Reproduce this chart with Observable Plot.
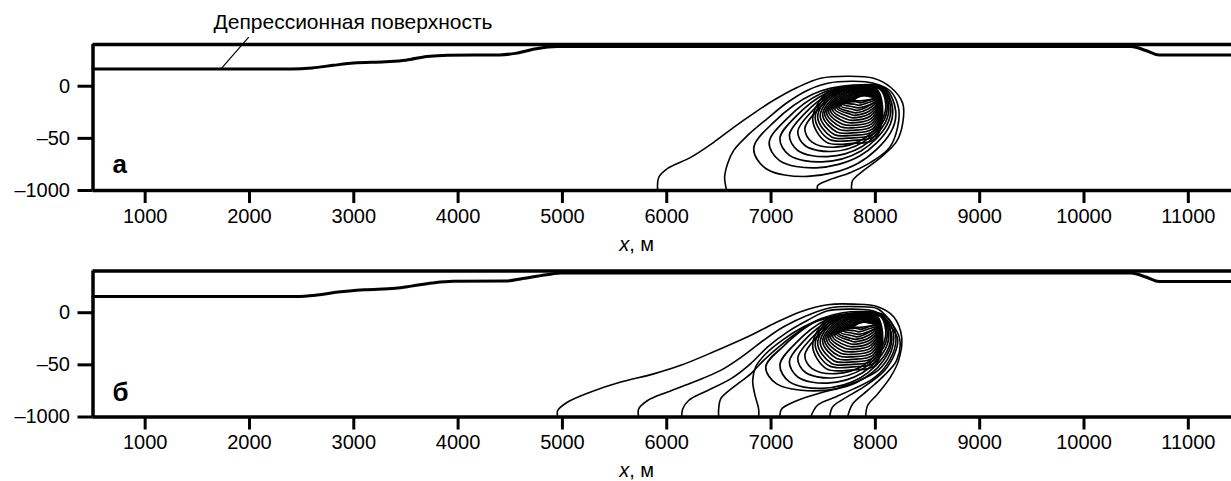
<!DOCTYPE html>
<html><head><meta charset="utf-8">
<script src="https://cdn.jsdelivr.net/npm/d3@7"></script>
<script src="https://cdn.jsdelivr.net/npm/@observablehq/plot@0.6"></script>
<style>
html,body{margin:0;padding:0;background:#fff;}
#chart{position:relative;width:1231px;height:481px;font-family:"Liberation Sans",Arial,sans-serif;}
#chart svg{position:absolute;left:0;}
#chart g[aria-label$="tick label"]{font-size:20px !important;}
</style></head><body><div id="chart"></div>
<script>
// ---- axes ----
const xTicks = [1000, 2000, 3000, 4000, 5000, 6000, 7000, 8000, 9000, 10000, 11000];
const yTicks = [0, -50, -1000];
const xDomain = [500, 11414];
const yTop = 40, yBreak = -50, yBottom = -1000;
const xLabel = "x, м";
const surfaceLabel = "Депрессионная поверхность";
const panelLetters = ["а", "б"];

// ---- depression surface [x, м ; y] ----
const surfaceA = [[500,16.5],[2400,16.5],[2600,17.5],[2800,20],[3000,22.3],[3300,23.5],[3500,25],[3700,28.5],[3900,29.8],[4400,30],[4550,31.5],[4750,36],[4950,38],[10450,38],[10600,34],[10720,30],[11414,30]];
const surfaceB = [[500,15.5],[2450,15.5],[2650,17],[2850,19.8],[3100,22],[3400,23.5],[3550,25.5],[3750,28.5],[3950,30.2],[4450,30.3],[4620,32.8],[4850,36.5],[5000,38],[10450,38],[10600,34],[10720,30],[11414,30]];
const leader = [{x1: 1725, y1: 16.3, x2: 1993, y2: 47.1}];

// ---- panel а: open isolines reaching the bottom ----
const openA1 = [[5913,-1000],[5923,-763],[6009,-598],[6230,-397],[6450,-123],[6642,-39.4],[6833,-26],[7025,-13.5],[7255,-1],[7476,7.7],[7734,9.6],[7983,7.7],[8146,-1],[8262,-16.3],[8262,-35.6],[8204,-105],[8051,-397],[7888,-635],[7782,-817],[7772,-1000]];
const openA2 = [[6575,-1000],[6555,-763],[6584,-507],[6642,-269],[6776,-47.1],[6967,-30.8],[7159,-15.4],[7351,-3.8],[7543,2.9],[7792,4.8],[7983,2.9],[8146,-4.8],[8223,-21.2],[8213,-39.4],[8137,-214],[7955,-488],[7763,-671],[7543,-817],[7447,-909],[7447,-1000]];

// ---- closed isolines: outer ones ----
const loop1 = [[6834,-233],[6949,-598],[7351,-744],[7830,-507],[8147,-44.2],[8194,-23.1],[8089,-1.9],[7782,1.0],[7399,-7.7],[7025,-34.6]];
const loop2 = [[6982,-127],[7082,-456],[7432,-587],[7849,-373],[8125,-40.2],[8165,-21.2],[8074,-2.1],[7807,0.5],[7474,-7.3],[7148,-31.5]];
const loop3 = [[7085,-52],[7174,-355],[7488,-478],[7862,-280],[8109,-37.4],[8146,-19.8],[8064,-2.2],[7824,0.2],[7525,-7.0],[7234,-29.4]];
const loop4 = [[7176,-46.8],[7256,-271],[7538,-383],[7873,-200],[8095,-34.9],[8128,-18.7],[8055,-2.4],[7840,-0.1],[7571,-6.8],[7310,-27.5]];
const loop5 = [[7256,-43.5],[7328,-185],[7582,-289],[7883,-119],[8083,-32.5],[8113,-17.5],[8046,-2.5],[7853,-0.4],[7612,-6.5],[7376,-25.7]];
const loop6 = [[7324,-40.7],[7390,-114],[7619,-211],[7892,-54],[8073,-30.5],[8099,-16.5],[8040,-2.6],[7865,-0.7],[7646,-6.3],[7433,-24.1]];
// ---- closed isolines: dense core ----
const core1 = [[7399,-31.7],[7533,-123],[7782,-141],[7993,-68],[8070,-26],[8012,-2.9],[7840,-1.0],[7543,-5.8]];
const core2 = [[7423,-30.5],[7557,-68],[7782,-87],[7988,-48.1],[8065,-24.8],[8007,-3.4],[7840,-1.4],[7567,-6.3]];
const core3 = [[7447,-29.6],[7581,-48.6],[7782,-49.5],[7983,-45.7],[8060,-23.8],[8002,-3.8],[7840,-1.9],[7590,-6.7]];
const core4 = [[7471,-28.6],[7605,-46.2],[7782,-47.1],[7978,-43.3],[8055,-22.8],[7998,-4.3],[7840,-2.4],[7614,-7.2]];
const core5 = [[7495,-27.6],[7629,-43.8],[7782,-44.7],[7974,-40.9],[8050,-21.9],[7993,-4.8],[7840,-2.9],[7638,-7.7]];
const core6 = [[7514,-26.7],[7648,-41.3],[7782,-42.3],[7969,-38.5],[8046,-20.9],[7988,-5.3],[7840,-3.4],[7658,-8.2]];
const core7 = [[7533,-25.7],[7667,-38.9],[7782,-39.9],[7964,-36.1],[8041,-20.0],[7983,-5.8],[7840,-3.8],[7677,-8.7]];
const core8 = [[7552,-24.8],[7686,-36.5],[7782,-37.5],[7959,-33.7],[8036,-19.0],[7978,-6.3],[7840,-4.3],[7696,-9.1]];
const core9 = [[7571,-23.8],[7706,-34.1],[7782,-35.1],[7955,-31.3],[8031,-18.0],[7974,-6.7],[7840,-4.8],[7715,-9.6]];
const core10 = [[7590,-22.8],[7725,-31.7],[7782,-32.7],[7950,-28.8],[8026,-17.1],[7969,-7.2],[7840,-5.3],[7734,-10.1]];
const core11 = [[7610,-21.9],[7744,-29.3],[7782,-30.3],[7945,-26.4],[8022,-16.1],[7964,-7.7],[7840,-5.8],[7753,-10.6]];
const core12 = [[7629,-20.9],[7763,-26.9],[7802,-27.9],[7940,-24.0],[8017,-15.1],[7959,-8.2],[7840,-6.3],[7773,-11.1]];
const core13 = [[7648,-20.0],[7763,-24.5],[7811,-25.5],[7935,-21.6],[8012,-14.2],[7955,-8.7],[7840,-6.7],[7792,-11.5]];
const core14 = [[7667,-19.0],[7782,-22.1],[7821,-23.1],[7930,-19.2],[8007,-13.2],[7950,-9.1],[7840,-7.2],[7811,-12.0]];
const core15 = [[7686,-17.1],[7782,-19.7],[7840,-20.7],[7945,-17.8],[8022,-13.2],[7964,-9.1],[7878,-7.7],[7802,-10.6]];
const core16 = [[7706,-16.1],[7802,-17.3],[7840,-18.3],[7940,-15.4],[8017,-12.3],[7959,-9.6],[7878,-8.2],[7821,-11.1]];
const core17 = [[7725,-15.1],[7811,-14.9],[7859,-15.9],[7935,-13.5],[8012,-11.3],[7955,-10.1],[7888,-8.7],[7821,-11.1]];
const core18 = [[7744,-13.0],[7859,-14.0],[8007,-11.1],[7888,-9.1]];

// ---- panel б: open isolines reaching the bottom ----
const openB1 = [[4955,-1000],[4955,-881],[5051,-726],[5271,-543],[5559,-361],[5875,-214],[6134,-59],[6450,-37.5],[6776,-23.1],[7025,-10.6],[7284,1.0],[7543,7.7],[7792,8.2],[8022,5.8],[8175,-3.8],[8252,-23.1],[8223,-45.7],[8146,-269],[8022,-580],[7926,-790],[7907,-1000]];
const openB2 = [[5731,-1000],[5731,-854],[5817,-699],[6009,-543],[6258,-361],[6517,-150],[6738,-40.9],[6929,-26.4],[7121,-13.5],[7351,-2.4],[7571,4.8],[7830,5.8],[8022,3.8],[8146,-8.7],[8233,-25],[8204,-45.7],[8070,-269],[7926,-516],[7782,-763],[7734,-1000]];
const openB3 = [[6143,-1000],[6153,-854],[6210,-699],[6393,-516],[6613,-306],[6805,-48.8],[6968,-32.7],[7159,-18.3],[7351,-7.2],[7543,1.9],[7792,3.4],[8003,1.0],[8127,-10.6],[8213,-25],[8185,-39.4],[8089,-150],[7888,-452],[7696,-671],[7590,-817],[7562,-1000]];
const openB4 = [[6498,-1000],[6498,-854],[6517,-671],[6642,-452],[6805,-214],[6929,-45.7],[7092,-31.3],[7284,-16.8],[7476,-5.8],[7686,0],[7907,1.0],[8080,-1.9],[8175,-13.5],[8194,-29.8],[8108,-50],[7974,-306],[7792,-488],[7619,-635],[7447,-781],[7380,-1000]];
const openB5 = [[6881,-1000],[6881,-854],[6843,-580],[6824,-333],[6853,-87],[6949,-39.4],[7112,-26],[7313,-13.5],[7523,-4.8],[7763,-1.4],[7974,-1.4],[8108,-6.7],[8175,-21.2],[8137,-40.4],[8031,-141],[7859,-324],[7648,-470],[7409,-598],[7217,-726],[7102,-854],[7083,-1000]];
const loopB0 = [[6949,-87],[7054,-397],[7523,-516],[7897,-288],[8118,-39.4],[8156,-21.2],[8051,-2.9],[7763,-2.4],[7428,-8.7],[7112,-32.7]];

const core = [core1, core2, core3, core4, core5, core6, core7, core8, core9, core10, core11, core12, core13, core14, core15, core16, core17, core18];
const loopsA = [loop1, loop2, loop3, loop4, loop5, loop6, ...core];
const loopsB = [loopB0, loop3, loop4, loop5, loop6, ...core];

function rows(lines) {
  return lines.flatMap((pts, i) => pts.map(([x, y]) => ({id: i, x, y})));
}
// broken vertical axis: linear above -50, compressed 19x below it
const yBreakTransform = v => v >= yBreak ? v : yBreak + (v - yBreak) / 19;
const yBreakInverse = t => t >= yBreak ? t : yBreak + (t - yBreak) * 19;
const fmtY = t => { const d = Math.round(yBreakInverse(t)); return d < 0 ? "\u2013" + (-d) : String(d); };

function panel({height, top, surface, open, loops, letter, letterDy, annotate}) {
  const bottom = top + 146;
  const marks = [
    Plot.ruleY([yTop], {strokeWidth: 3.5}),
    Plot.line(surface, {x: d => d[0], y: d => d[1], strokeWidth: 3, curve: "monotone-x"}),
    Plot.line(rows(open), {x: "x", y: "y", z: "id", strokeWidth: 1.6, curve: "catmull-rom"}),
    Plot.line(rows(loops), {x: "x", y: "y", z: "id", strokeWidth: 1.7, curve: "catmull-rom-closed"}),
    Plot.ruleY([yBottom], {strokeWidth: 3.5}),
    Plot.ruleX([xDomain[0]], {strokeWidth: 3.5}),
    Plot.axisX({ticks: xTicks, tickFormat: d => String(d), tickSize: 13, tickPadding: 5, strokeWidth: 3, fontSize: 20, label: null}),
    Plot.axisY({ticks: yTicks.map(yBreakTransform), tickFormat: fmtY, tickSize: 15, tickPadding: 8, strokeWidth: 3, fontSize: 20, label: null}),
    Plot.text([{t: xLabel, x: 5712}], {x: "x", text: "t", frameAnchor: "bottom", dy: 60, lineAnchor: "bottom", fontSize: 20, className: "xlab"}),
    Plot.text([letter], {text: d => d, frameAnchor: "bottom-left", dx: 19.5, dy: letterDy, textAnchor: "start", lineAnchor: "bottom", fontSize: 26, fontWeight: "bold"})
  ];
  if (annotate) {
    marks.push(Plot.link(leader, {x1: "x1", y1: "y1", x2: "x2", y2: "y2", strokeWidth: 1.2}));
    marks.push(Plot.text([surfaceLabel], {text: d => d, frameAnchor: "top-left", dx: 120.5, dy: -16, textAnchor: "start", lineAnchor: "bottom", fontSize: 21}));
  }
  const svg = Plot.plot({
    width: 1231, height,
    marginTop: top, marginBottom: height - bottom, marginLeft: 92.5, marginRight: 0,
    style: {background: "transparent", overflow: "visible", fontFamily: "'Liberation Sans', Arial, sans-serif", fontSize: "20px", color: "#000"},
    x: {domain: xDomain},
    y: {domain: [yBreakTransform(yBottom), yTop], transform: yBreakTransform},
    marks
  });
  svg.querySelectorAll(".xlab text").forEach(t => {
    t.innerHTML = '<tspan font-style="italic">x</tspan>, м';
  });
  return svg;
}

const root = document.getElementById("chart");
const a = panel({height: 256, top: 44, surface: surfaceA, open: [openA1, openA2], loops: loopsA, letter: panelLetters[0], letterDy: -18, annotate: true});
a.style.top = "0px";
const b = panel({height: 225, top: 14.5, surface: surfaceB, open: [openB1, openB2, openB3, openB4, openB5], loops: loopsB, letter: panelLetters[1], letterDy: -16.5, annotate: false});
b.style.top = "256px";
root.append(a, b);
</script></body></html>
